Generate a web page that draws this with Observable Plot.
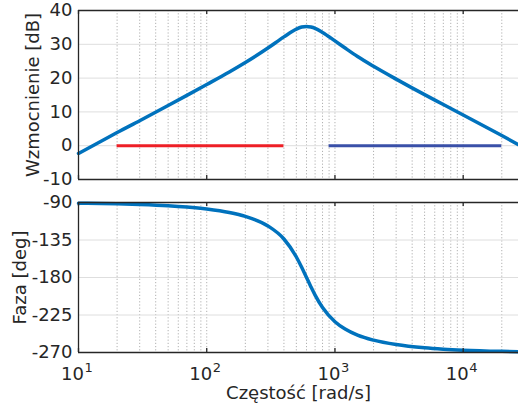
<!DOCTYPE html>
<html><head><meta charset="utf-8">
<script src="https://cdn.jsdelivr.net/npm/d3@7"></script>
<script src="https://cdn.jsdelivr.net/npm/@observablehq/plot@0.6"></script>
<style>body{margin:0;background:#fff;} #c svg{display:block;}</style>
</head><body><div id="c"></div>
<script>
// ---- data ----
const freq     = [10, 15, 20, 30, 50, 70, 100, 150, 200, 300, 400, 500, 550, 600, 650, 700, 800, 1000, 1200, 1500, 2000, 3000, 5000, 7000, 10000, 20000, 27000];
const gainDb   = [-2.3, 1.3, 3.9, 7.4, 11.9, 14.9, 18.1, 21.8, 24.6, 28.9, 32.2, 34.5, 35.1, 35.3, 35.1, 34.7, 33.5, 31.0, 28.9, 26.4, 23.5, 19.7, 15.1, 12.2, 9.1, 3.0, 0.3];
const phaseDeg = [-90.8, -91.1, -91.5, -92.3, -93.8, -95.4, -97.8, -102.0, -106.7, -118.1, -133.8, -155.4, -167.7, -180, -191.3, -201.2, -216.1, -233.1, -241.9, -249.2, -255.2, -260.5, -264.4, -266.0, -267.2, -268.6, -269.0];
const redBand  = [20, 400];     // 0 dB segment (red)
const blueBand = [900, 20000];  // 0 dB segment (blue)
const bandLevel = 0;
const gainTicks  = [-10, 0, 10, 20, 30, 40];
const phaseTicks = [-270, -225, -180, -135, -90];
const decades    = [10, 100, 1000, 10000];
const exponents  = ["1", "2", "3", "4"];
const gridFreqs  = [10,20,30,40,50,60,70,80,90,100,200,300,400,500,600,700,800,900,1000,2000,3000,4000,5000,6000,7000,8000,9000,10000,20000];
const xDomain = [10, 27000];
const gainDomain = [-10, 40];
const phaseDomain = [-270, -90];

// ---- styling ----
const FONT = "DejaVu Sans";
const INK = "#262626";
const LINE = "#0072bd";
const W = 518;

const curve = freq.map((f, i) => ({f, g: gainDb[i], p: phaseDeg[i]}));

function frameMarks(yDom, tickLen) {
  return [
    Plot.ruleY([yDom[0], yDom[1]], {stroke: INK, strokeWidth: 1.3}),
    Plot.ruleX([xDomain[0]], {stroke: INK, strokeWidth: 1.3}),
    Plot.ruleX(decades, {y1: yDom[1], y2: yDom[1] - tickLen, stroke: INK, strokeWidth: 1.3}),
    Plot.ruleX(decades, {y1: yDom[0], y2: yDom[0] + tickLen, stroke: INK, strokeWidth: 1.3})
  ];
}

const topPlot = Plot.plot({
  width: W, height: 190,
  marginLeft: 78, marginRight: 0, marginTop: 10, marginBottom: 11,
  style: {fontFamily: FONT, fontSize: "18px", color: INK, background: "white", overflow: "visible"},
  x: {type: "log", domain: xDomain, axis: null},
  y: {domain: gainDomain, axis: null},
  marks: [
    Plot.ruleX(gridFreqs, {stroke: "#a8a8a8", strokeWidth: 0.9, strokeDasharray: "1.2,2"}),
    Plot.ruleY(gainTicks.filter(d => d > gainDomain[0] && d < gainDomain[1]), {stroke: "#dedede", strokeWidth: 1}),
    Plot.ruleY([{a: redBand[0], b: redBand[1]}], {x1: "a", x2: "b", y: bandLevel, stroke: "#ee1f26", strokeWidth: 3}),
    Plot.ruleY([{a: blueBand[0], b: blueBand[1]}], {x1: "a", x2: "b", y: bandLevel, stroke: "#3a50a8", strokeWidth: 3}),
    Plot.line(curve, {x: "f", y: "g", stroke: LINE, strokeWidth: 3.5, curve: "monotone-x"}),
    ...frameMarks(gainDomain, 1.2),
    Plot.axisY(gainTicks, {tickSize: 0, tickPadding: 6, tickFormat: d => String(d), fontSize: 18, label: null}),
    Plot.text(["Wzmocnienie [dB]"], {frameAnchor: "left", textAnchor: "middle", rotate: -90, dx: -45, fontSize: 18, fill: INK})
  ]
});

const botPlot = Plot.plot({
  width: W, height: 217,
  marginLeft: 78, marginRight: 0, marginTop: 12, marginBottom: 55,
  style: {fontFamily: FONT, fontSize: "18px", color: INK, background: "white", overflow: "visible"},
  x: {type: "log", domain: xDomain, axis: null},
  y: {domain: phaseDomain, axis: null},
  marks: [
    Plot.ruleX(gridFreqs, {stroke: "#a8a8a8", strokeWidth: 0.9, strokeDasharray: "1.2,2"}),
    Plot.ruleY(phaseTicks.filter(d => d > phaseDomain[0] && d < phaseDomain[1]), {stroke: "#dedede", strokeWidth: 1}),
    Plot.line(curve, {x: "f", y: "p", stroke: LINE, strokeWidth: 3.5, curve: "monotone-x"}),
    ...frameMarks(phaseDomain, 4.8),
    Plot.axisY(phaseTicks, {tickSize: 0, tickPadding: 6, tickFormat: d => String(d), fontSize: 18, label: null}),
    Plot.text(decades, {x: d => d, frameAnchor: "bottom", text: () => "10", dy: 27, dx: -6, fontSize: 18, fill: INK}),
    Plot.text(decades, {x: d => d, frameAnchor: "bottom", text: (d, i) => exponents[i], dy: 19, dx: 6, textAnchor: "start", fontSize: 13, fill: INK}),
    Plot.text(["Częstość [rad/s]"], {frameAnchor: "bottom", textAnchor: "middle", dy: 46, fontSize: 18, fill: INK}),
    Plot.text(["Faza [deg]"], {frameAnchor: "left", textAnchor: "middle", rotate: -90, dx: -58, fontSize: 18, fill: INK})
  ]
});

document.getElementById("c").append(topPlot, botPlot);
</script>
</body></html>
